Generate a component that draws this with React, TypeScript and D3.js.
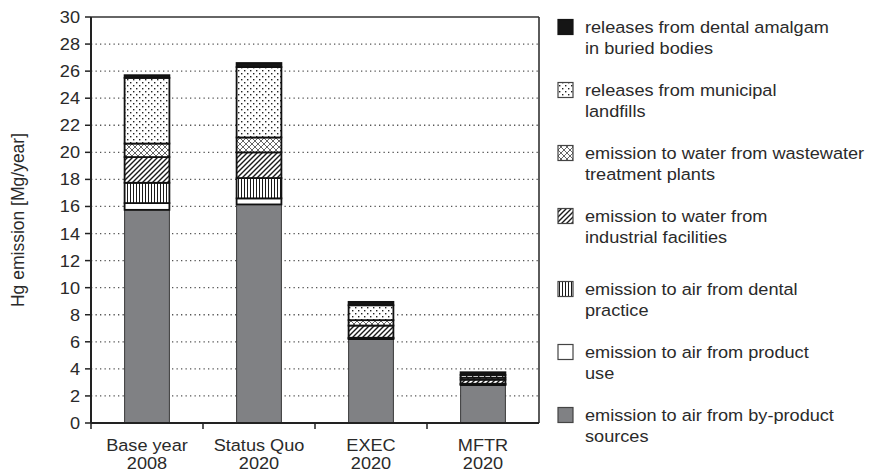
import React from 'react';
import * as d3 from 'd3';

// categories (two-line labels)
const categories = ['Base year', 'Status Quo', 'EXEC', 'MFTR'];
const catYears = ['2008', '2020', '2020', '2020'];

// series values, Mg/year, stacked bottom to top
const byProduct = [15.75, 16.15, 6.2, 2.8];
const productUse = [0.5, 0.45, 0.05, 0.05];
const dentalAir = [1.5, 1.5, 0.05, 0.05];
const industrialWater = [1.9, 1.9, 0.9, 0.3];
const wastewater = [1.0, 1.1, 0.4, 0.15];
const landfills = [4.85, 5.2, 1.1, 0.2];
const buried = [0.2, 0.3, 0.25, 0.2];

const yTicks = [0, 2, 4, 6, 8, 10, 12, 14, 16, 18, 20, 22, 24, 26, 28, 30];

const seriesKeys = ['byProduct', 'productUse', 'dentalAir', 'industrialWater', 'wastewater', 'landfills', 'buried'];
const seriesValues = [byProduct, productUse, dentalAir, industrialWater, wastewater, landfills, buried];
const legendLabels = [
  ['releases from dental amalgam', 'in buried bodies'],
  ['releases from municipal', 'landfills'],
  ['emission to water from wastewater', 'treatment plants'],
  ['emission to water from', 'industrial facilities'],
  ['emission to air from dental', 'practice'],
  ['emission to air from product', 'use'],
  ['emission to air from by-product', 'sources'],
];
const legendKeys = ['buried', 'landfills', 'wastewater', 'industrialWater', 'dentalAir', 'productUse', 'byProduct'];

const fills: Record<string, string> = {
  byProduct: '#808184',
  productUse: '#ffffff',
  dentalAir: 'url(#pVert)',
  industrialWater: 'url(#pDiag)',
  wastewater: 'url(#pCross)',
  landfills: 'url(#pDots)',
  buried: '#151515',
};

const W = 875;
const H = 472;
const margin = { left: 91, right: 336, top: 17, bottom: 49 };
const SX = 1.1; // the reference text is a bit stretched sideways
const FS = 16.5;
const FONT = '"Liberation Sans", Arial, sans-serif';
const TXT = '#2a2a2a';

const table = categories.map((c, i) => {
  const row: Record<string, number | string> = { cat: c };
  seriesKeys.forEach((k, j) => (row[k] = seriesValues[j][i]));
  return row;
});

const T = ({ x, y, anchor = 'start', size = FS, children }: any) => (
  <text
    transform={`translate(${x},${y}) scale(${SX},1)`}
    textAnchor={anchor}
    fontFamily={FONT}
    fontSize={size}
    fill={TXT}
  >
    {children}
  </text>
);

export default function App() {
  const x0 = margin.left;
  const x1 = W - margin.right;
  const yb = H - margin.bottom;
  const x = d3.scaleBand().domain(categories).range([x0, x1]).paddingInner(0.6).paddingOuter(0.3);
  const band = d3.scaleBand().domain(categories).range([x0, x1]);
  const y = d3.scaleLinear().domain([0, 30]).range([yb, margin.top]);
  const stacked = d3.stack<any>().keys(seriesKeys)(table as any);

  return (
    <svg width={W} height={H} style={{ position: 'absolute', left: 0, top: 0 }}>
      <defs>
        <pattern id="pDots" width="6" height="6" patternUnits="userSpaceOnUse">
          <rect width="6" height="6" fill="#fff" />
          <rect x="1" y="1" width="1.4" height="1.4" fill="#222" />
          <rect x="4" y="4" width="1.4" height="1.4" fill="#222" />
        </pattern>
        <pattern id="pCross" width="6" height="6" patternUnits="userSpaceOnUse">
          <rect width="6" height="6" fill="#fff" />
          <path d="M0,0L6,6M6,0L0,6" stroke="#555" strokeWidth="0.9" />
        </pattern>
        <pattern id="pDiag" width="5" height="5" patternUnits="userSpaceOnUse">
          <rect width="5" height="5" fill="#fff" />
          <path d="M0,5L5,0M-1,1L1,-1M4,6L6,4" stroke="#1a1a1a" strokeWidth="1.4" />
        </pattern>
        <pattern id="pVert" width="3" height="3" patternUnits="userSpaceOnUse">
          <rect width="3" height="3" fill="#fff" />
          <line x1="1.5" x2="1.5" y1="0" y2="3" stroke="#1a1a1a" strokeWidth="1" />
        </pattern>
      </defs>

      {/* gridlines */}
      {yTicks.filter((t) => t > 0 && t < 30).map((t) => (
        <line key={t} x1={x0} x2={x1} y1={y(t)} y2={y(t)} stroke="#555" strokeWidth={1.3} strokeDasharray="1.3 3.2" />
      ))}

      {/* bars */}
      {stacked.map((s) => (
        <g key={s.key}>
          {s.map((d: any, i: number) => (
            <rect
              key={i}
              x={x(categories[i])}
              width={x.bandwidth()}
              y={y(d[1])}
              height={y(d[0]) - y(d[1])}
              fill={fills[s.key]}
              stroke={s.key === 'byProduct' ? '#3a3a3a' : '#111'}
              strokeWidth={s.key === 'byProduct' ? 1 : 1.8}
            />
          ))}
        </g>
      ))}

      {/* frame */}
      <line x1={x0} x2={x1} y1={margin.top} y2={margin.top} stroke="#333" strokeWidth={1.6} />
      <line x1={x1} x2={x1} y1={margin.top} y2={yb} stroke="#333" strokeWidth={1.6} />
      <line x1={x0} x2={x0} y1={margin.top} y2={yb} stroke="#222" strokeWidth={2} />
      <line x1={x0} x2={x1} y1={yb} y2={yb} stroke="#222" strokeWidth={2} />

      {/* y axis */}
      {yTicks.map((t) => (
        <g key={t}>
          <line x1={x0 - 6} x2={x0} y1={y(t)} y2={y(t)} stroke="#222" strokeWidth={1.5} />
          <T x={x0 - 11} y={y(t) + 6} anchor="end">{t}</T>
        </g>
      ))}
      <text
        transform={`translate(24,${(margin.top + yb) / 2}) rotate(-90)`}
        textAnchor="middle"
        fontFamily={FONT}
        fontSize={17.5}
        fill={TXT}
      >
        Hg emission [Mg/year]
      </text>

      {/* x axis */}
      {categories.map((c, i) => (
        <g key={c}>
          <line x1={band(c)} x2={band(c)} y1={yb} y2={yb + 6} stroke="#222" strokeWidth={1.5} />
          <T x={band(c)! + band.bandwidth() / 2} y={yb + 28} anchor="middle">{c}</T>
          <T x={band(c)! + band.bandwidth() / 2} y={yb + 46} anchor="middle">{catYears[i]}</T>
        </g>
      ))}

      {/* legend */}
      {legendKeys.map((k, i) => {
        const cy = 27 + i * 63 + (i >= 4 ? 10 : 0);
        return (
          <g key={k}>
            <rect
              x={558}
              y={cy - 7.5}
              width={15}
              height={15}
              fill={fills[k]}
              stroke={k === 'buried' ? '#151515' : '#444'}
              strokeWidth={1.2}
            />
            <T x={585} y={cy + 6}>{legendLabels[i][0]}</T>
            <T x={585} y={cy + 27}>{legendLabels[i][1]}</T>
          </g>
        );
      })}
    </svg>
  );
}
